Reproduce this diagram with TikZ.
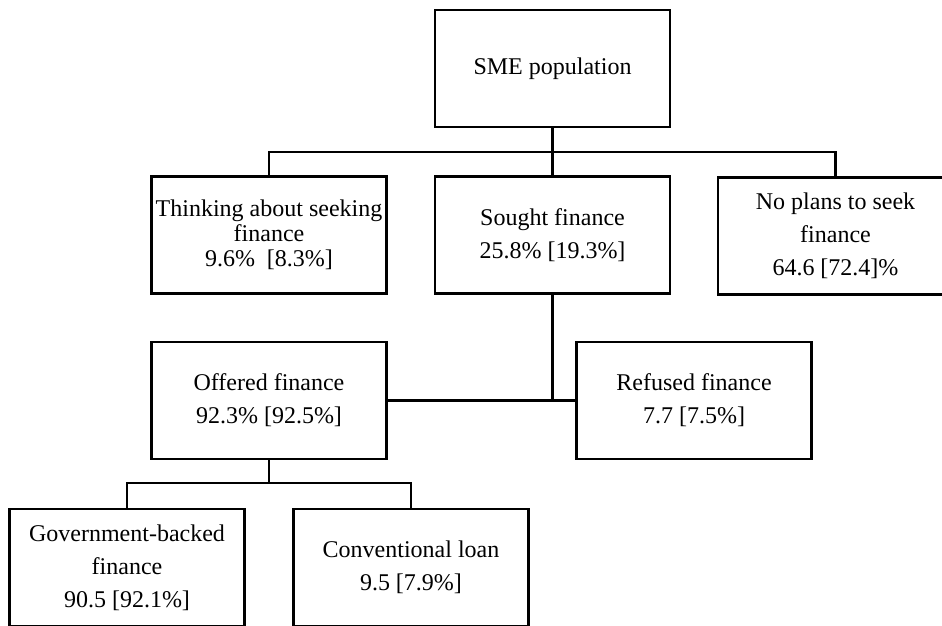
\documentclass[tikz,border=0pt]{standalone}
\usepackage{fontspec}
\setmainfont{Liberation Serif}
\usepackage{tikz}

\tikzset{
  box/.style={draw,line width=2.6pt,minimum width=235pt,minimum height=117pt,
    inner sep=0pt,align=center,font=\fontsize{24}{33}\selectfont},
  link/.style={line width=2.6pt}
}

\begin{document}
\begin{tikzpicture}[x=1pt,y=-1pt]
\useasboundingbox (0,0) rectangle (942,625);
\clip (0,0) rectangle (942,625);
% boxes
\node[box] (sme) at (552.5,68.5) {SME population};
\node[box,font=\fontsize{24}{25}\selectfont] (think) at (269,235) {Thinking about seeking\\finance\\9.6\%\ \ [8.3\%]};
\node[box] (sought) at (552.5,235) {Sought finance\\25.8\% [19.3\%]};
\node[box] (noplan) at (835.5,236) {No plans to seek\\finance\\64.6 [72.4]\%};
\node[box] (offered) at (269,400.5) {Offered finance\\92.3\% [92.5\%]};
\node[box] (refused) at (694,400.5) {Refused finance\\7.7 [7.5\%]};
\node[box] (gov) at (127,567.5) {Government-backed\\finance\\90.5 [92.1\%]};
\node[box] (conv) at (411,567.5) {Conventional loan\\9.5 [7.9\%]};
% connectors
\coordinate (bus1) at (552.5,152);
\coordinate (bus2) at (269,483);
\draw[link] (sme.south) -- (bus1);
\draw[link] (think.north) |- (bus1) -| (noplan.north);
\draw[link] (bus1) -- (sought.north);
\draw[link] (sought.south) -- (sought.south |- offered.east);
\draw[link] (offered.east) -- (refused.west);
\draw[link] (offered.south) -- (bus2);
\draw[link] (gov.north) |- (bus2) -| (conv.north);
\end{tikzpicture}
\end{document}
